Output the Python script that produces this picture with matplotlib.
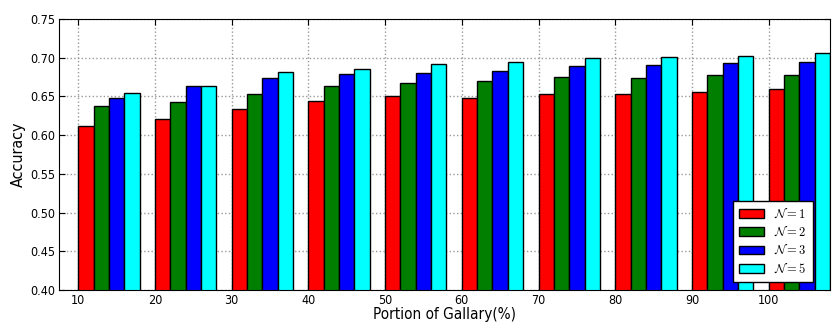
import matplotlib
matplotlib.use("Agg")
import matplotlib.pyplot as plt
import numpy as np

plt.rcParams["font.family"] = ["DejaVu Sans"]
plt.rcParams["font.stretch"] = "condensed"
plt.rcParams["mathtext.fontset"] = "cm"

portions = [10, 20, 30, 40, 50, 60, 70, 80, 90, 100]
acc_n1 = [0.612, 0.621, 0.634, 0.644, 0.650, 0.6485, 0.653, 0.653, 0.6555, 0.660]
acc_n2 = [0.637, 0.6425, 0.653, 0.664, 0.667, 0.6695, 0.6745, 0.674, 0.678, 0.678]
acc_n3 = [0.6485, 0.663, 0.6735, 0.679, 0.680, 0.6825, 0.689, 0.690, 0.693, 0.695]
acc_n5 = [0.654, 0.664, 0.681, 0.686, 0.692, 0.6945, 0.700, 0.7005, 0.7026, 0.706]
series_labels = [r"$\mathcal{N}=1$", r"$\mathcal{N}=2$", r"$\mathcal{N}=3$", r"$\mathcal{N}=5$"]
colors = ["#ff0000", "#007f00", "#0000ff", "#00ffff"]

fig = plt.figure(figsize=(8.32, 3.22), dpi=100)
ax = fig.add_axes([0.071, 0.0994, 0.9266, 0.8416])

x = np.array(portions, dtype=float)
w = 2.0
for i, (vals, lab, c) in enumerate(zip([acc_n1, acc_n2, acc_n3, acc_n5], series_labels, colors)):
    ax.bar(x + i * w, vals, width=w, align="edge", color=c, edgecolor="black",
           linewidth=1.0, label=lab, zorder=2)

ax.set_xlim(7.5, 108)
ax.set_ylim(0.40, 0.75)
ax.set_xticks(portions)
ax.set_yticks(np.arange(0.40, 0.751, 0.05))
ax.yaxis.set_major_formatter(matplotlib.ticker.FormatStrFormatter("%.2f"))
ax.tick_params(direction="in", top=True, right=True, labelsize=9, length=4, pad=3)
ax.grid(True, linestyle=":", color="#999999", linewidth=1.0, zorder=0)
ax.set_axisbelow(True)
ax.set_xlabel("Portion of Gallary(%)", fontsize=11, labelpad=0)
ax.set_ylabel("Accuracy", fontsize=11.5, labelpad=3)
leg = ax.legend(loc="lower right", fontsize=9, fancybox=False, framealpha=1,
                edgecolor="black", bbox_to_anchor=(0.978, 0.03), borderaxespad=0.0,
                handlelength=2.0, labelspacing=0.4, handletextpad=0.8, borderpad=0.5)
leg.get_frame().set_linewidth(1.0)

fig.savefig("out.png", dpi=100)
